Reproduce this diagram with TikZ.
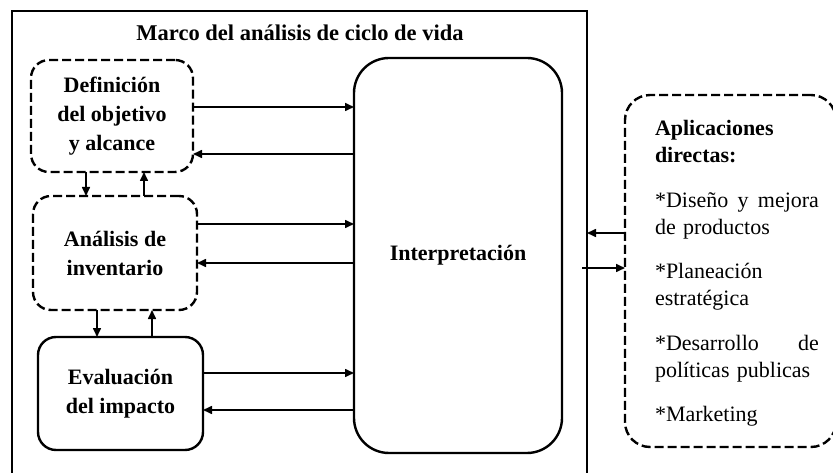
\documentclass[tikz,border=0pt]{standalone}
\usepackage{fontspec}
\setmainfont{Liberation Serif}
\usetikzlibrary{arrows.meta}
\begin{document}
\begin{tikzpicture}[x=1pt,y=-1pt,
  every node/.style={inner sep=0pt, outer sep=0pt},
  boxtxt/.style={font=\fontsize{22}{29}\selectfont\bfseries, align=center},
  solidbox/.style={draw, line width=2.4pt, rounded corners=#1},
  dashbox/.style={draw, line width=2.4pt, rounded corners=#1, dash pattern=on 9pt off 4pt},
  arr/.style={line width=1.6pt, -{Triangle[length=9pt,width=8pt]}}
]
\useasboundingbox (0,0) rectangle (833,473);
\clip (0,0) rectangle (833,473);
% outer frame
\node[draw, line width=2.4pt, minimum width=575pt, minimum height=471pt] (frame) at (299.5,246.5) {};
\node[font=\fontsize{22.5}{26}\selectfont\bfseries] (title) at (300,33) {Marco del análisis de ciclo de vida};
% left boxes
\node[dashbox=18pt, boxtxt, minimum width=162pt, minimum height=112pt] (def) at (112,116) {Definición\\del objetivo\\y alcance};
\node[dashbox=18pt, boxtxt, minimum width=164pt, minimum height=114pt] (ana) at (115,253) {Análisis de\\inventario};
\node[solidbox=18pt, boxtxt, minimum width=165pt, minimum height=113pt] (eva) at (120.5,393.5) {Evaluación\\del impacto};
% interpretation
\node[solidbox=35pt, boxtxt, minimum width=208pt, minimum height=395pt] (int) at (458,255.5) {Interpretación};
% right box
\node[dashbox=25pt, minimum width=211pt, minimum height=352pt] (app) at (730.5,271) {};
\node[anchor=base west, text width=166pt, align=left, font=\fontsize{22}{27}\selectfont] (apptxt) at (655,136)
{\setlength{\parskip}{17.5pt}\textbf{Aplicaciones}\\\textbf{directas:}\par
\makebox[164pt][l]{*Diseño\hfill y\hfill mejora}\\de productos\par
*Planeación\\estratégica\par
\makebox[164pt][l]{*Desarrollo\hfill de}\\políticas publicas\par
*Marketing};
% horizontal arrows
\draw[arr] ([yshift=9pt]def.east) -- ([yshift=9pt]def.east -| int.west);
\draw[arr] ([yshift=-38pt]def.east -| int.west) -- ([yshift=-38pt]def.east);
\draw[arr] ([yshift=29pt]ana.east) -- ([yshift=29pt]ana.east -| int.west);
\draw[arr] ([yshift=-10pt]ana.east -| int.west) -- ([yshift=-10pt]ana.east);
\draw[arr] ([yshift=20.5pt]eva.east) -- ([yshift=20.5pt]eva.east -| int.west);
\draw[arr] ([yshift=-16.5pt]eva.east -| int.west) -- ([yshift=-16.5pt]eva.east);
% vertical arrows
\draw[arr] ([xshift=-26pt]def.south) -- ([xshift=-26pt]def.south |- ana.north);
\draw[arr] ([xshift=29pt]ana.north) -- ([xshift=29pt]ana.north |- def.south);
\draw[arr] ([xshift=-18pt]ana.south) -- ([xshift=-18pt]ana.south |- eva.north);
\draw[arr] ([xshift=31.5pt]eva.north) -- ([xshift=31.5pt]eva.north |- ana.south);
% frame <-> applications
\draw[arr] ([yshift=38pt]app.west) -- ([yshift=38pt]app.west -| frame.east);
\draw[arr] ([yshift=3pt,xshift=-5pt]app.west -| frame.east) -- ([yshift=3pt]app.west);
\end{tikzpicture}
\end{document}
